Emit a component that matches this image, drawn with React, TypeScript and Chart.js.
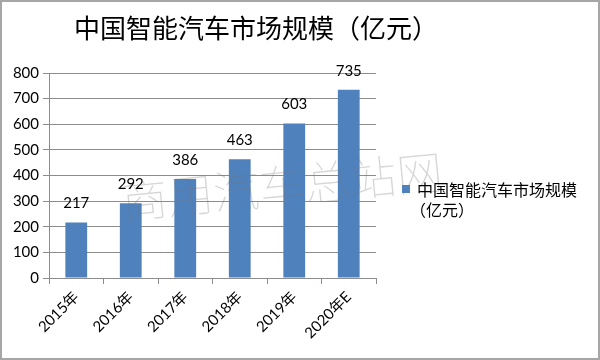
import React, { useEffect, useRef } from "react";
import { Chart, registerables } from "chart.js";

Chart.register(...registerables);

const title = "中国智能汽车市场规模（亿元）";
const seriesName = "中国智能汽车市场规模";
const seriesUnit = "（亿元）";
const categories = ["2015年", "2016年", "2017年", "2018年", "2019年", "2020年E"];
const values = [217, 292, 386, 463, 603, 735];
const watermark = "商用汽车总站网";

const BAR = "#4f81bd";
const GRID = "#8c8c8c";
const SANS = "Lato, 'Noto Sans', 'Noto Sans CJK SC', sans-serif";
const CJK = "'Noto Sans CJK SC', sans-serif";

const decor = {
  id: "decor",
  afterDatasetsDraw(chart: any) {
    const ctx = chart.ctx;
    const meta = chart.getDatasetMeta(0);
    ctx.save();
    ctx.font = `15px ${SANS}`;
    ctx.fillStyle = "#000";
    ctx.textAlign = "center";
    ctx.textBaseline = "middle";
    meta.data.forEach((bar: any, i: number) => {
      ctx.fillText(String(values[i]), bar.x, bar.y - 19);
    });
    ctx.restore();
    // watermark
    ctx.save();
    ctx.translate(282, 186);
    ctx.rotate(-0.095);
    ctx.font = `100 46px ${CJK}`;
    ctx.fillStyle = "rgba(120,120,120,0.3)";
    ctx.textAlign = "center";
    ctx.textBaseline = "middle";
    ctx.fillText(watermark, 0, 0);
    ctx.restore();
  },
  afterDraw(chart: any) {
    const ctx = chart.ctx;
    ctx.save();
    // title
    ctx.font = `26px ${CJK}`;
    ctx.fillStyle = "#000";
    ctx.textAlign = "center";
    ctx.textBaseline = "middle";
    ctx.fillText(title, 256, 28);
    // legend
    ctx.fillStyle = BAR;
    ctx.fillRect(402, 185, 8, 8);
    ctx.fillStyle = "#000";
    ctx.font = `16px ${CJK}`;
    ctx.textAlign = "left";
    ctx.fillText(seriesName, 417, 190);
    ctx.fillText(seriesUnit, 410, 210);
    // border
    ctx.strokeStyle = "#a6a6a6";
    ctx.lineWidth = 2;
    ctx.strokeRect(1, 1, 598, 358);
    ctx.restore();
  },
};

export default function App() {
  const ref = useRef<HTMLCanvasElement>(null);
  useEffect(() => {
    document.body.style.margin = "0";
    const chart = new Chart(ref.current!, {
      type: "bar",
      data: {
        labels: categories,
        datasets: [
          {
            label: seriesName + seriesUnit,
            data: values,
            backgroundColor: BAR,
            barPercentage: 0.4,
            categoryPercentage: 1,
          },
        ],
      },
      options: {
        responsive: false,
        animation: false,
        layout: { padding: { top: 73, right: 224, left: 0, bottom: 0 } },
        plugins: { legend: { display: false }, tooltip: { enabled: false } },
        scales: {
          x: {
            offset: true,
            grid: { display: true, drawOnChartArea: false, color: GRID, tickLength: 6, offset: true },
            border: { color: GRID, width: 1 },
            ticks: {
              maxRotation: 45,
              minRotation: 45,
              color: "#000",
              font: { family: SANS, size: 15 },
              padding: 4,
            },
            afterFit: (s: any) => {
              s.height = 82;
            },
          },
          y: {
            min: 0,
            max: 800,
            ticks: { stepSize: 100, color: "#000", font: { family: SANS, size: 15 }, padding: 4 },
            grid: { color: GRID, tickLength: 6 },
            border: { color: GRID, width: 1 },
            afterFit: (s: any) => {
              s.width = 49;
            },
          },
        },
      },
      plugins: [decor],
    });
    return () => chart.destroy();
  }, []);
  return <canvas ref={ref} width={600} height={360} />;
}
